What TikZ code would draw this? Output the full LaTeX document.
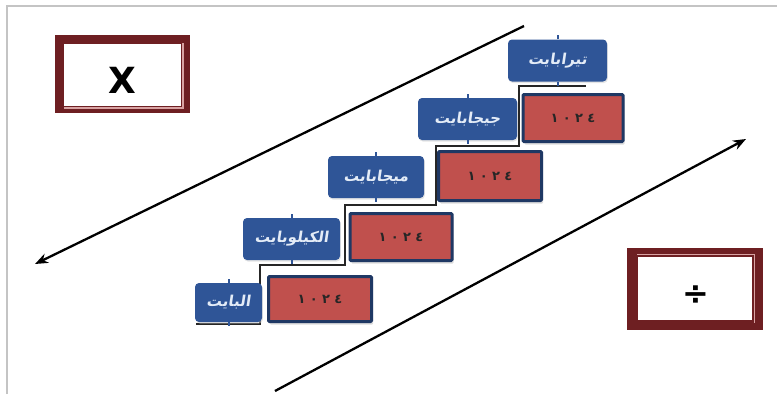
\documentclass[tikz,border=0pt]{standalone}
\usepackage{fontspec}
\setmainfont{Liberation Sans}
\TeXXeTstate=1
\newfontfamily\arabicfont[Script=Arabic,FakeSlant=0.15]{DejaVu Sans}
\newfontfamily\arabicnum[Script=Arabic]{DejaVu Sans}
\newfontfamily\symfont{DejaVu Sans}
\usetikzlibrary{arrows.meta,shadows}
\definecolor{lblblue}{HTML}{2F5597}
\definecolor{lbltext}{HTML}{E4ECF7}
\definecolor{boxred}{HTML}{C0504D}
\definecolor{boxnavy}{HTML}{1F3864}
\definecolor{maroon}{HTML}{6E1F22}
\definecolor{pinkline}{HTML}{D9A3A3}
\definecolor{framegray}{HTML}{C4C4C4}
\tikzset{
  lbl/.style={rectangle, rounded corners=4pt, fill=lblblue, text=lbltext,
    inner sep=0pt, font=\arabicfont\bfseries\fontsize{15}{17}\selectfont,
    drop shadow={shadow xshift=0.8pt, shadow yshift=-1.5pt, fill=gray!40}},
  numbox/.style={rectangle, fill=boxred, draw=boxnavy, line width=3pt,
    rounded corners=1pt, inner sep=0pt, text=black!85,
    font=\arabicnum\bfseries\fontsize{13}{15}\selectfont,
    drop shadow={shadow xshift=1.5pt, shadow yshift=-3pt, fill=gray!55}},
  stair/.style={draw=black!85, line width=1.3pt},
  tick/.style={draw=lblblue, line width=2pt},
  bigarrow/.style={draw=black, line width=2.3pt, -{Stealth[length=13pt,width=10pt]}},
}
\begin{document}
\begin{tikzpicture}[x=1pt,y=-1pt]
\useasboundingbox (0,0) rectangle (777,394);
% frame
\draw[framegray, line width=1.5pt] (7,394) -- (7,6) -- (777,6);

% X box
\fill[maroon] (55,35) rectangle (190,113);
\fill[white] (64,44) rectangle (181,106);
\draw[pinkline, line width=1.3pt] (64,108) -- (183,108) -- (183,43);
\node[font=\symfont\bfseries\fontsize{36}{38}\selectfont] (xsign) at (122.5,80) {X};

% division box
\fill[maroon] (627,248) rectangle (763,330);
\fill[white] (638,257) rectangle (752,320);
\draw[pinkline, line width=1.3pt] (637,254.5) -- (754.5,254.5) -- (754.5,323);
\node[font=\symfont\bfseries\fontsize{32}{34}\selectfont] (divsign) at (696,295) {÷};

% arrows
\coordinate (a1s) at (524,26);
\coordinate (a1e) at (35,264);
\coordinate (a2s) at (275,391);
\coordinate (a2e) at (746,139);
\draw[bigarrow] (a1s) -- (a1e);
\draw[bigarrow] (a2s) -- (a2e);

% staircase line
\coordinate (s0) at (196,324);
\coordinate (s1) at (260,324);
\coordinate (s2) at (260,265);
\coordinate (s3) at (345,265);
\coordinate (s4) at (345,205);
\coordinate (s5) at (436,205);
\coordinate (s6) at (436,146);
\coordinate (s7) at (519,146);
\coordinate (s8) at (519,86);
\coordinate (s9) at (586,86);
\draw[stair] (s0) -- (s1) -- (s2) -- (s3) -- (s4) -- (s5) -- (s6) -- (s7) -- (s8) -- (s9);

% red boxes
\node[numbox, minimum width=103pt, minimum height=45pt] (r1) at (320,299) {١\,\,٠\,\,٢\,\,٤};
\node[numbox, minimum width=102pt, minimum height=47pt] (r2) at (401,237) {١\,\,٠\,\,٢\,\,٤};
\node[numbox, minimum width=103pt, minimum height=49pt] (r3) at (490,176) {١\,\,٠\,\,٢\,\,٤};
\node[numbox, minimum width=100pt, minimum height=47pt] (r4) at (573,118) {١\,\,٠\,\,٢\,\,٤};

% blue labels
\node[lbl, minimum width=67pt, minimum height=39pt] (b1) at (228.5,302.5) {\beginR البايت\endR};
\node[lbl, minimum width=97pt, minimum height=42pt] (b2) at (291.5,239) {\beginR الكيلوبايت\endR};
\node[lbl, minimum width=96pt, minimum height=42pt] (b3) at (376,177) {\beginR ميجابايت\endR};
\node[lbl, minimum width=99pt, minimum height=42pt] (b4) at (467.5,119) {\beginR جيجابايت\endR};
\node[lbl, minimum width=99pt, minimum height=42pt] (b5) at (557.5,60.5) {\beginR تيرابايت\endR};

% small pointer ticks on labels
\foreach \b in {b1,b2,b3,b4,b5}{
  \draw[tick] (\b.north) -- ++(0,-4);
  \draw[tick] (\b.south) -- ++(0,4);
}
\end{tikzpicture}
\end{document}
